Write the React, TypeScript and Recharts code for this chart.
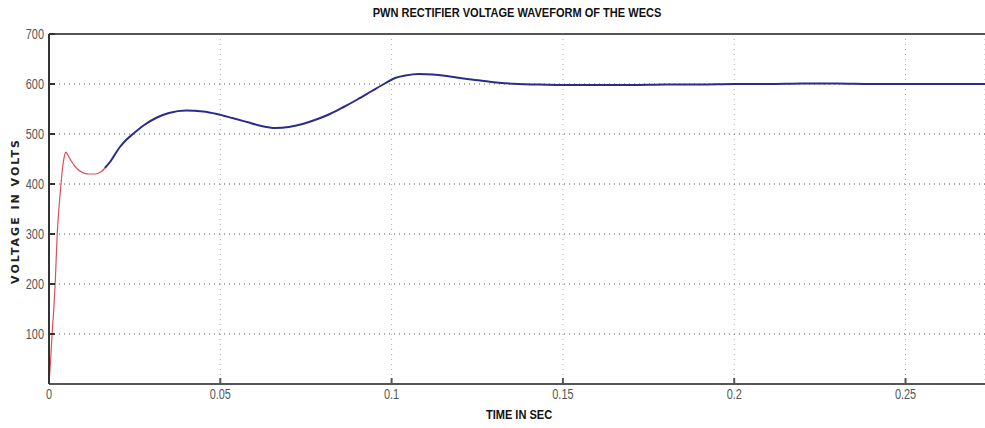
import { LineChart, Line, XAxis, YAxis, CartesianGrid, ReferenceLine } from "recharts";

// start-up transient (red)
const redTime = [0, 0.0004, 0.0009, 0.0014, 0.0018, 0.0024, 0.003, 0.0035, 0.004, 0.0045, 0.0049, 0.0055, 0.0065, 0.0075, 0.0085, 0.0095, 0.0105, 0.0115, 0.0125, 0.0135, 0.0145, 0.0155, 0.0163];
const redVolts = [0, 40, 100, 150, 200, 300, 360, 400, 435, 456, 464, 458, 446, 436, 429, 424, 421, 420, 420, 420, 422, 426, 432];

// regulated dc link (blue)
const blueTime = [0.0163, 0.0178, 0.0195, 0.0207, 0.0225, 0.0245, 0.0278, 0.0315, 0.035, 0.04, 0.045, 0.049, 0.0535, 0.0578, 0.062, 0.066, 0.07, 0.074, 0.078, 0.082, 0.086, 0.09, 0.094, 0.098, 0.101, 0.104, 0.108, 0.112, 0.117, 0.122, 0.127, 0.132, 0.137, 0.142, 0.15, 0.16, 0.17, 0.18, 0.19, 0.2, 0.21, 0.22, 0.23, 0.24, 0.25, 0.26, 0.2732];
const blueVolts = [432, 444, 462, 474, 488, 500, 518, 533, 542, 547, 545, 540, 532, 524, 516, 512, 514, 520, 529, 540, 554, 569, 585, 601, 612, 617, 620, 619, 615, 610, 606, 602, 600, 599, 598, 598, 598, 599, 599, 600, 600, 601, 601, 600, 600, 600, 600];

const xTicks = [0, 0.05, 0.1, 0.15, 0.2, 0.25];
const yTicks = [100, 200, 300, 400, 500, 600, 700];

const redData = redTime.map((t, i) => ({ t, v: redVolts[i] }));
const blueData = blueTime.map((t, i) => ({ t, v: blueVolts[i] }));

const font = "'Liberation Sans', Arial, sans-serif";

// MATLAB-ish condensed tick labels
function XTick(props: any) {
  const { x, y, payload } = props;
  return (
    <g transform={`translate(${x},${y}) scale(0.78,1)`}>
      <text x={0} y={0} dy="0.5em" textAnchor="middle" fontFamily={font} fontSize={14} fill="#555">
        {String(payload.value)}
      </text>
    </g>
  );
}

function YTick(props: any) {
  const { x, y, payload } = props;
  return (
    <g transform={`translate(${x},${y}) scale(0.78,1)`}>
      <text x={0} y={0} dy="0.36em" textAnchor="end" fontFamily={font} fontSize={14} fill="#555">
        {String(payload.value)}
      </text>
    </g>
  );
}

export default function App() {
  return (
    <div style={{ position: "absolute", left: 0, top: 0, width: 985, height: 428, background: "#fff" }}>
      <LineChart width={985} height={428} margin={{ top: 33, right: 0, bottom: 0, left: 0 }}>
        <CartesianGrid horizontal={false} stroke="#aaa" strokeDasharray="1 4" />
        <CartesianGrid vertical={false} stroke="#555" strokeDasharray="1 4" />
        <XAxis
          type="number"
          dataKey="t"
          domain={[0, 0.2732]}
          ticks={xTicks}
          height={44}
          stroke="#555"
          strokeWidth={2}
          tickSize={-6}
          tickMargin={14}
          tick={<XTick />}
          allowDataOverflow
        />
        <XAxis
          xAxisId="top"
          orientation="top"
          type="number"
          domain={[0, 0.2732]}
          ticks={xTicks}
          height={1}
          stroke="#555"
          strokeWidth={2}
          tickSize={-6}
          tick={() => <g />}
          allowDataOverflow
        />
        <YAxis
          type="number"
          domain={[0, 700]}
          ticks={yTicks}
          width={49}
          stroke="#333"
          strokeWidth={2}
          tickSize={-6}
          tickMargin={11}
          tick={<YTick />}
        />
        <ReferenceLine y={700} stroke="#555" strokeWidth={2} />
        <Line data={redData} dataKey="v" type="monotone" stroke="#d9505a" strokeWidth={1.2} dot={false} isAnimationActive={false} />
        <Line data={blueData} dataKey="v" type="monotone" stroke="#2b2b8c" strokeWidth={2} dot={false} isAnimationActive={false} />
        <text
          x={517}
          y={17}
          textAnchor="middle"
          transform="translate(517,0) scale(0.85,1) translate(-517,0)"
          fontFamily={font}
          fontWeight="bold"
          fontSize={13}
          fill="#111"
        >
          PWN RECTIFIER VOLTAGE WAVEFORM OF THE WECS
        </text>
        <text
          x={519}
          y={419}
          textAnchor="middle"
          transform="translate(519,0) scale(0.85,1) translate(-519,0)"
          fontFamily={font}
          fontWeight="bold"
          fontSize={13}
          fill="#111"
        >
          TIME IN SEC
        </text>
        <text
          x={19}
          y={211}
          textAnchor="middle"
          transform="rotate(-90 19 211)"
          fontFamily="'DejaVu Sans', sans-serif"
          fontWeight="bold"
          fontSize={11}
          letterSpacing={2}
          fill="#222"
        >
          VOLTAGE IN VOLTS
        </text>
      </LineChart>
    </div>
  );
}
